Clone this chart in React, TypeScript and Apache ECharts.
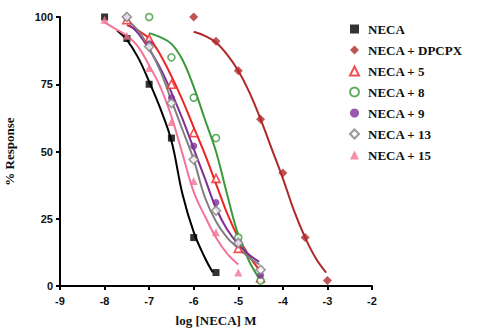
import React, { useEffect, useRef } from "react";
import * as echarts from "echarts";

const xTicks = [-9, -8, -7, -6, -5, -4, -3, -2];
const yTicks = [0, 25, 50, 75, 100];

const seriesNames = ["NECA", "NECA + DPCPX", "NECA + 5", "NECA + 8", "NECA + 9", "NECA + 13", "NECA + 15"];

// measured points [log M, % response]
const necaPts = [[-8, 100], [-7.5, 92], [-7, 75], [-6.5, 55], [-6, 18], [-5.5, 5]];
const dpcpxPts = [[-6, 100], [-5.5, 91], [-5, 80], [-4.5, 62], [-4, 42], [-3.5, 18], [-3, 2]];
const c5Pts = [[-7.5, 99], [-7, 92], [-6.5, 75], [-6, 57], [-5.5, 40], [-5, 14], [-4.5, 3]];
const c8Pts = [[-7, 100], [-6.5, 85], [-6, 70], [-5.5, 55], [-5, 18], [-4.5, 2]];
const c9Pts = [[-7.5, 100], [-7, 90], [-6.5, 70], [-6, 52], [-5.5, 31], [-5, 16], [-4.5, 4]];
const c13Pts = [[-7.5, 100], [-7, 89], [-6.5, 68], [-6, 47], [-5.5, 28], [-5, 16], [-4.5, 6]];
const c15Pts = [[-8, 99], [-7.5, 93], [-7, 81], [-6.5, 61], [-6, 39], [-5.5, 20], [-5, 5]];

// fitted curves
const necaFit = [[-7.72, 95], [-7.5, 91.5], [-7.25, 85], [-7, 76], [-6.75, 66], [-6.5, 54], [-6.25, 34], [-6, 20], [-5.75, 10.5], [-5.57, 5]];
const dpcpxFit = [[-6, 94.5], [-5.75, 93], [-5.5, 90.5], [-5.25, 86], [-5, 80], [-4.75, 72], [-4.5, 62], [-4.25, 51], [-4, 40], [-3.75, 28], [-3.5, 18], [-3.25, 10], [-3.03, 5]];
const c5Fit = [[-7.5, 97], [-7.25, 95], [-7, 92], [-6.75, 86], [-6.5, 78], [-6.25, 69], [-6, 59], [-5.75, 49], [-5.5, 38], [-5.25, 27], [-5, 18], [-4.75, 11], [-4.53, 6]];
const c8Fit = [[-7, 94], [-6.75, 92.5], [-6.5, 90], [-6.25, 84], [-6, 74], [-5.75, 62], [-5.5, 50], [-5.25, 34], [-5, 19], [-4.75, 9], [-4.5, 2]];
const c9Fit = [[-7.45, 97], [-7.25, 94], [-7, 88], [-6.75, 81], [-6.5, 72], [-6.25, 62], [-6, 51], [-5.75, 40], [-5.5, 29], [-5.25, 21], [-5, 15.5], [-4.75, 11.5], [-4.53, 9]];
const c13Fit = [[-7.5, 99], [-7.25, 95], [-7, 88.5], [-6.75, 80], [-6.5, 69], [-6.25, 58], [-6, 47], [-5.75, 33], [-5.5, 24], [-5.25, 18], [-5, 14], [-4.75, 10.5], [-4.53, 8]];
const c15Fit = [[-8, 98], [-7.75, 95.5], [-7.5, 93], [-7.25, 89], [-7, 82], [-6.75, 74], [-6.5, 63], [-6.25, 49], [-6, 35], [-5.75, 26], [-5.5, 18], [-5.25, 12], [-5, 8]];

const pointSets = [necaPts, dpcpxPts, c5Pts, c8Pts, c9Pts, c13Pts, c15Pts];
const fitSets = [necaFit, dpcpxFit, c5Fit, c8Fit, c9Fit, c13Fit, c15Fit];

const colors = ["#000000", "#B0282A", "#EE2424", "#3A9A3A", "#7E2F98", "#7F7F7F", "#F27497"];
const symbols = ["rect", "diamond", "triangle", "circle", "circle", "diamond", "triangle"];
const hollow = [false, false, true, true, false, true, false];
const sizes = [7, 9, 8, 7, 7, 9, 8];

export default function App() {
  const ref = useRef<HTMLDivElement>(null);
  useEffect(() => {
    if (!ref.current) return;
    const chart = echarts.init(ref.current, null, { renderer: "svg" });
    const series: any[] = [];
    fitSets.forEach((fit, i) => {
      series.push({
        type: "line",
        name: "fit" + i,
        data: fit,
        smooth: 0.4,
        showSymbol: false,
        symbol: "none",
        lineStyle: { color: colors[i], width: 2 },
        z: 2,
        silent: true,
      });
    });
    pointSets.forEach((pts, i) => {
      series.push({
        type: "scatter",
        name: seriesNames[i],
        data: pts,
        symbol: symbols[i],
        symbolSize: sizes[i],
        itemStyle: hollow[i]
          ? { color: "#ffffff", borderColor: colors[i], borderWidth: 1.6 }
          : { color: colors[i] },
        z: 3,
      });
    });
    chart.setOption({
      animation: false,
      backgroundColor: "#ffffff",
      grid: { left: 60, right: 106, top: 17, bottom: 43, containLabel: false, outerBoundsMode: "none" },
      xAxis: {
        type: "value",
        min: -9,
        max: -2,
        interval: 1,
        name: "log [NECA] M",
        nameLocation: "middle",
        nameGap: 28,
        nameTextStyle: { fontFamily: "Liberation Serif", fontWeight: "bold", fontSize: 13, color: "#111" },
        axisLine: { lineStyle: { color: "#000", width: 2 } },
        axisTick: { show: true, length: 4, lineStyle: { color: "#000", width: 2 } },
        axisLabel: {
          fontFamily: "Liberation Sans",
          fontWeight: "bold",
          fontSize: 11,
          color: "#111",
          margin: 9,
          formatter: (v: number) => (xTicks.includes(v) ? String(v) : ""),
        },
        splitLine: { show: false },
      },
      yAxis: {
        type: "value",
        min: 0,
        max: 100,
        interval: 25,
        name: "% Response",
        nameLocation: "middle",
        nameGap: 44,
        nameTextStyle: { fontFamily: "Liberation Serif", fontWeight: "bold", fontSize: 13, color: "#111" },
        axisLine: { lineStyle: { color: "#000", width: 2 } },
        axisTick: { show: true, length: 4, lineStyle: { color: "#000", width: 2 } },
        axisLabel: {
          fontFamily: "Liberation Sans",
          fontWeight: "bold",
          fontSize: 11,
          color: "#111",
          margin: 7,
          formatter: (v: number) => (yTicks.includes(v) ? String(v) : ""),
        },
        splitLine: { show: false },
      },
      legend: {
        data: seriesNames,
        orient: "vertical",
        left: 344,
        top: 17,
        itemWidth: 9,
        itemHeight: 9,
        itemGap: 7,
        textStyle: {
          fontFamily: "Liberation Serif",
          fontWeight: "bold",
          fontSize: 13,
          color: "#111",
          lineHeight: 14,
          padding: [0, 0, 0, 4],
        },
        selectedMode: false,
      },
      series,
    });
    return () => chart.dispose();
  }, []);
  return <div ref={ref} style={{ width: 478, height: 329, position: "absolute", left: 0, top: 0 }} />;
}
